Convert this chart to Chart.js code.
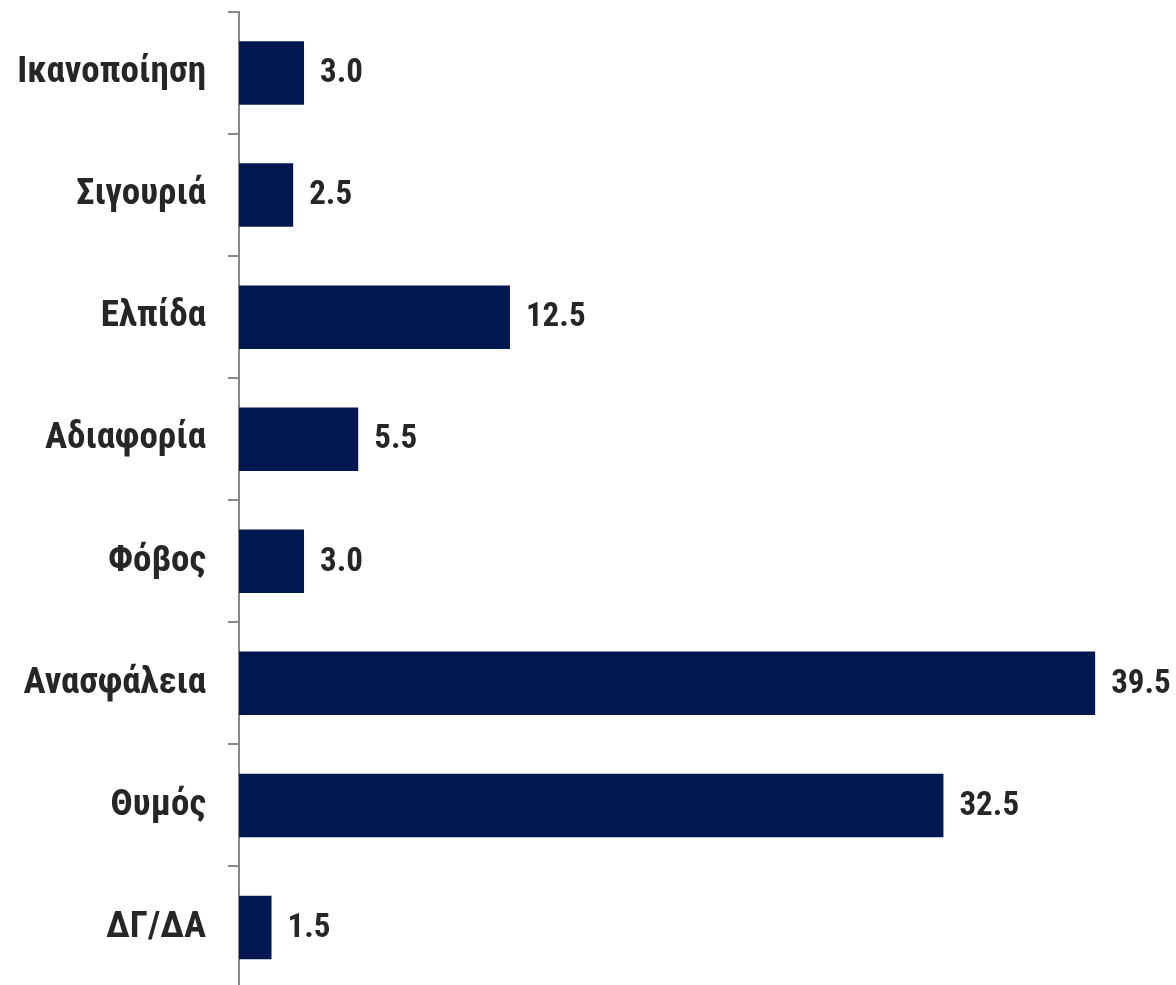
<!DOCTYPE html>
<html>
<head>
<meta charset="utf-8">
<script src="https://cdn.jsdelivr.net/npm/chart.js@4.4.1/dist/chart.umd.min.js"></script>
<style>
html,body{margin:0;padding:0;background:#fff;}
#wrap{width:1176px;height:985px;}
</style>
</head>
<body>
<div id="wrap"><canvas id="c" width="1176" height="985"></canvas></div>
<script>
const categories = ["Ικανοποίηση","Σιγουριά","Ελπίδα","Αδιαφορία","Φόβος","Ανασφάλεια","Θυμός","ΔΓ/ΔΑ"];
const values = [3.0, 2.5, 12.5, 5.5, 3.0, 39.5, 32.5, 1.5];

const FONT = "'Liberation Sans Narrow', 'Arial Narrow', 'Roboto Condensed', 'Liberation Sans', sans-serif";

// The plot area of the original runs slightly past the bottom edge of the picture.
const extendBottom = {
  id: 'extendBottom',
  afterLayout(chart) {
    const y = chart.scales.y;
    const newBottom = chart.height + 3.5;
    chart.chartArea.bottom = newBottom;
    chart.chartArea.height = newBottom - chart.chartArea.top;
    y.bottom = newBottom;
    y.height = newBottom - y.top;
    y.configure();
  }
};

const valueLabels = {
  id: 'valueLabels',
  afterDatasetsDraw(chart) {
    const ctx = chart.ctx;
    const meta = chart.getDatasetMeta(0);
    ctx.save();
    ctx.font = "bold 33px " + FONT;
    ctx.fillStyle = '#262626';
    ctx.textAlign = 'left';
    ctx.textBaseline = 'middle';
    meta.data.forEach((bar, i) => {
      ctx.fillText(values[i].toFixed(1), bar.x + 16, bar.y + 1);
    });
    ctx.restore();
  }
};

new Chart(document.getElementById('c'), {
  type: 'bar',
  data: {
    labels: categories,
    datasets: [{
      data: values,
      backgroundColor: '#00184f',
      borderWidth: 0,
      categoryPercentage: 1,
      barPercentage: 0.52
    }]
  },
  options: {
    indexAxis: 'y',
    responsive: false,
    animation: false,
    layout: { padding: { top: 12, right: 70, bottom: 0, left: 0 } },
    plugins: { legend: { display: false }, tooltip: { enabled: false } },
    scales: {
      x: { display: false, min: 0, max: 40 },
      y: {
        afterFit: s => { s.width = 239; s.paddingTop = 0; s.paddingBottom = 0; },
        grid: { drawOnChartArea: false, drawTicks: true, tickLength: 11, color: '#888888', lineWidth: 2 },
        border: { display: true, color: '#888888', width: 2 },
        ticks: { color: '#262626', font: { family: FONT, size: 37, weight: 'bold' }, padding: 22 }
      }
    }
  },
  plugins: [extendBottom, valueLabels]
});
</script>
</body>
</html>
